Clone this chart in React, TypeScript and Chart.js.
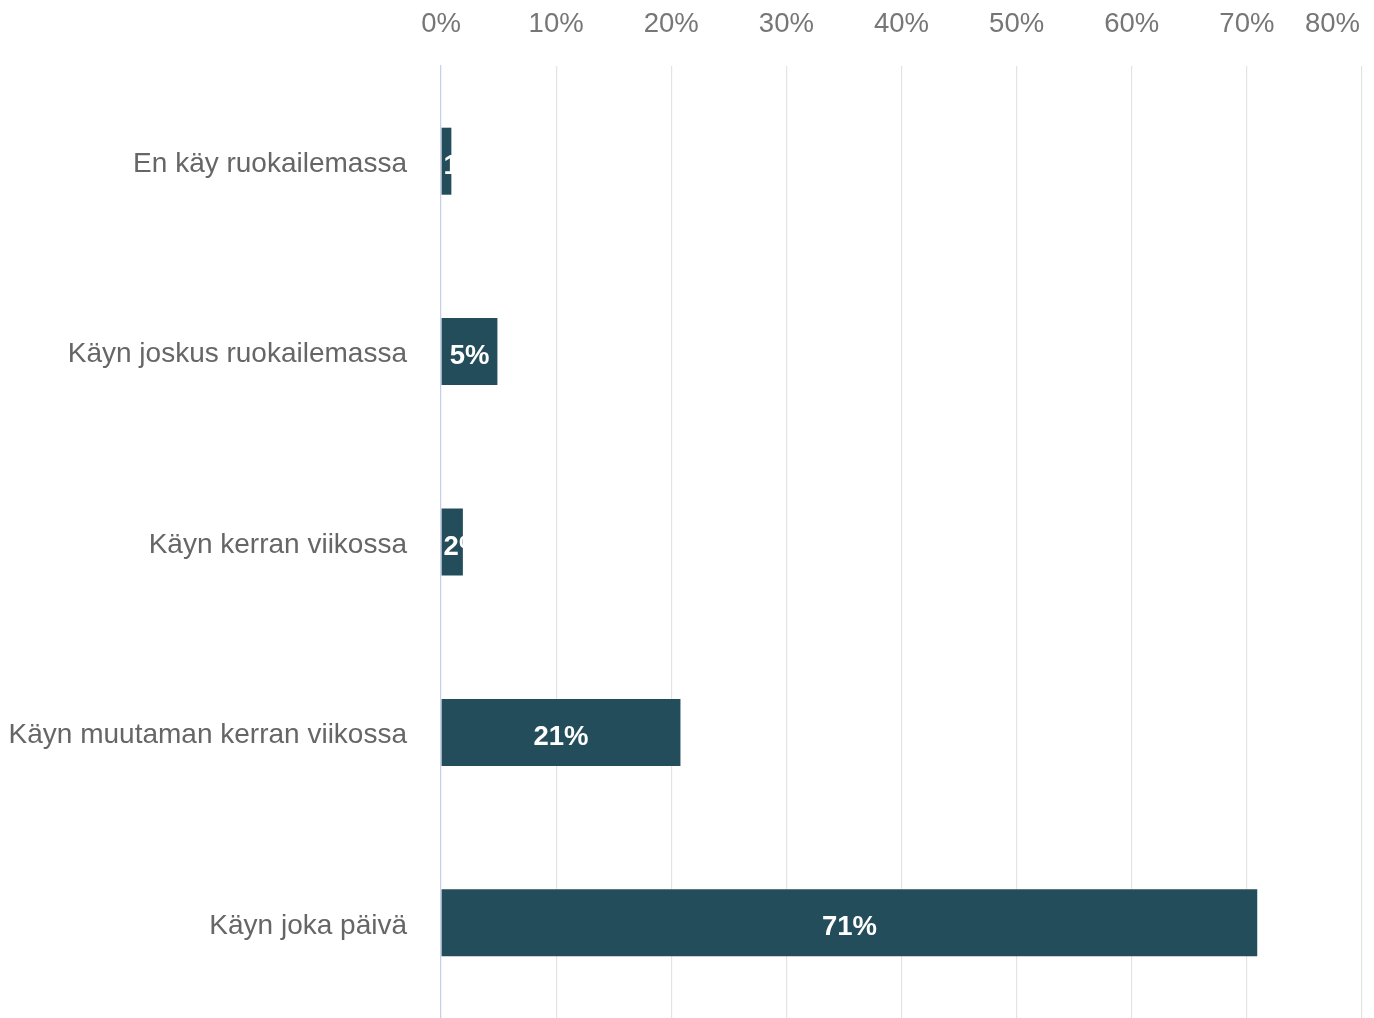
import React, { useEffect, useRef } from "react";
import { Chart, registerables } from "chart.js";

Chart.register(...registerables);

const CATEGORIES = [
  "En käy ruokailemassa",
  "Käyn joskus ruokailemassa",
  "Käyn kerran viikossa",
  "Käyn muutaman kerran viikossa",
  "Käyn joka päivä",
];
const VALUES = [0.9, 4.9, 1.9, 20.8, 70.9];
const VALUE_LABELS = ["1%", "5%", "2%", "21%", "71%"];
const X_TICKS = [0, 10, 20, 30, 40, 50, 60, 70, 80];
const X_TICK_LABELS = ["0%", "10%", "20%", "30%", "40%", "50%", "60%", "70%", "80%"];

const FONT = "'Liberation Sans', Arial, Helvetica, sans-serif";
const W = 1374;
const H = 1018;

const topTicksPlugin = {
  id: "topTicks",
  afterDraw(chart: any) {
    const scale = chart.scales.x;
    const ctx = chart.ctx;
    ctx.save();
    ctx.font = `27.5px ${FONT}`;
    ctx.fillStyle = "#767676";
    ctx.textAlign = "left";
    ctx.textBaseline = "middle";
    X_TICKS.forEach((v, i) => {
      const label = X_TICK_LABELS[i];
      const w = ctx.measureText(label).width;
      let x = scale.getPixelForValue(v) - w / 2;
      const maxRight = chart.width - 14;
      if (x + w > maxRight) x = maxRight - w;
      ctx.fillText(label, x, 24);
    });
    ctx.restore();
  },
};

const valueLabelsPlugin = {
  id: "valueLabels",
  afterDatasetsDraw(chart: any) {
    const ctx = chart.ctx;
    const meta = chart.getDatasetMeta(0);
    ctx.save();
    ctx.font = `bold 27.5px ${FONT}`;
    ctx.fillStyle = "#ffffff";
    ctx.textAlign = "left";
    ctx.textBaseline = "middle";
    meta.data.forEach((bar: any, i: number) => {
      const label = VALUE_LABELS[i];
      const w = ctx.measureText(label).width;
      const left = Math.min(bar.x, bar.base);
      let x = (bar.x + bar.base) / 2 - w / 2;
      if (x < left + 2) x = left + 2;
      ctx.fillText(label, x, bar.y + 5);
    });
    ctx.restore();
  },
};

export default function App() {
  const canvasRef = useRef<HTMLCanvasElement>(null);

  useEffect(() => {
    const canvas = canvasRef.current;
    if (!canvas) return;
    const chart = new Chart(canvas, {
      type: "bar",
      data: {
        labels: CATEGORIES,
        datasets: [
          {
            data: VALUES,
            backgroundColor: "#234d5a",
            borderWidth: 0,
            categoryPercentage: 1,
            barPercentage: 0.352,
          },
        ],
      },
      options: {
        indexAxis: "y",
        animation: false,
        responsive: false,
        maintainAspectRatio: false,
        devicePixelRatio: 1,
        layout: { padding: { top: 66, right: 12, bottom: 0, left: 0 } },
        plugins: {
          legend: { display: false },
          tooltip: { enabled: false },
        },
        scales: {
          x: {
            position: "top",
            min: 0,
            max: 80,
            ticks: { display: false, stepSize: 10 },
            grid: { color: "#e3e3e3", drawTicks: false, lineWidth: 1.2 },
            border: { display: false },
          },
          y: {
            grid: { display: false, drawTicks: false },
            border: { display: true, color: "#c6cfef", width: 1.2 },
            ticks: {
              color: "#666666",
              font: { family: FONT, size: 28 },
              padding: 34,
              labelOffset: 3,
            },
            afterFit(scale: any) {
              scale.width = 441;
              scale.paddingTop = 0;
              scale.paddingBottom = 0;
            },
          },
        },
      },
      plugins: [topTicksPlugin, valueLabelsPlugin],
    });
    return () => chart.destroy();
  }, []);

  return (
    <div
      style={{
        position: "fixed",
        left: 0,
        top: 0,
        width: W,
        height: H,
        background: "#ffffff",
      }}
    >
      <canvas
        ref={canvasRef}
        width={W}
        height={H}
        style={{ display: "block", width: W, height: H }}
      />
    </div>
  );
}
